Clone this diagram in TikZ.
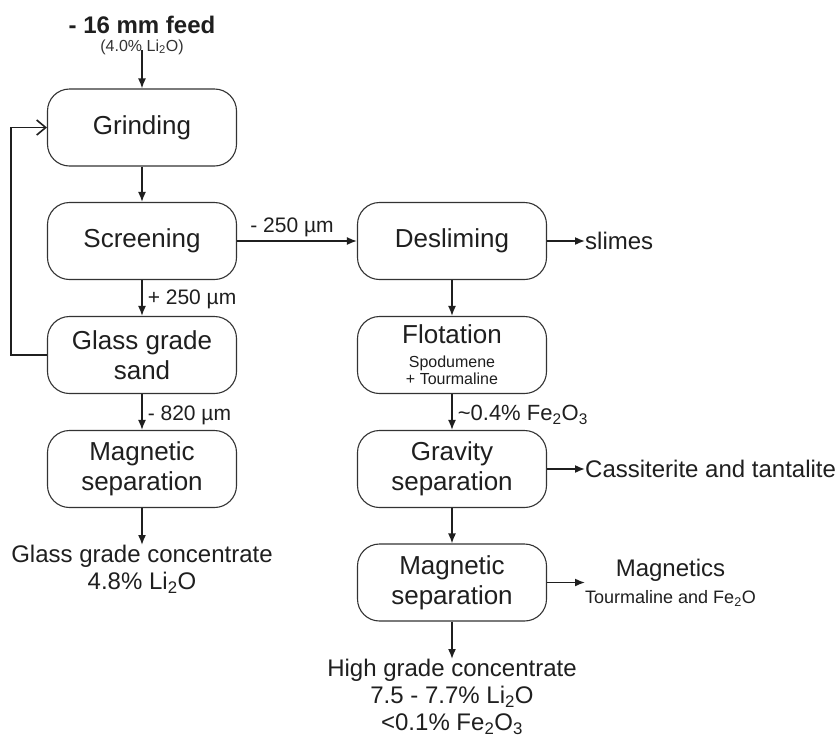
\documentclass[tikz,border=0pt]{standalone}
\usepackage{fontspec}
\setmainfont{Liberation Sans}
\usetikzlibrary{arrows.meta}
\begin{document}
\begin{tikzpicture}[x=1pt,y=-1pt,
  box/.style={draw=black!80, line width=1.1pt, rounded corners=22pt,
    minimum width=189pt, minimum height=77pt, inner sep=0pt,
    align=center, font=\fontsize{26}{30}\selectfont, text=black!88},
  flow/.style={line width=1.6pt, draw=black!88, -{Latex[length=10pt,width=8pt]}},
  lbl/.style={font=\fontsize{21}{24}\selectfont, text=black!88, inner sep=0pt},
  outtxt/.style={font=\fontsize{24}{27}\selectfont, text=black!88, inner sep=0pt, align=center}
]
\useasboundingbox (0,0) rectangle (837,737);
\fill[white] (0,0) rectangle (837,737);

% feed
\node[font=\bfseries\fontsize{24}{28}\selectfont, text=black!88, inner sep=0pt] (feed) at (142,25) {- 16 mm feed};
\node[font=\fontsize{16}{18}\selectfont, text=black!80, inner sep=0pt] (feedg) at (142,47) {(4.0\% Li\textsubscript{2}O)};
\coordinate (fs) at (142,50);

% left column
\node[box] (grind) at (142,127.5) {Grinding};
\node[box] (screen) at (142,241) {Screening};
\node[box] (glass) at (142,355) {Glass grade\\sand};
\node[box] (magL) at (142,469) {Magnetic\\separation};

% right column
\node[box] (desl) at (452,241) {Desliming};
\node[box] (flot) at (452,355) {Flotation\\[-6pt]\fontsize{16}{17}\selectfont Spodumene\\[-13pt]\fontsize{16}{17}\selectfont + Tourmaline};
\node[box] (grav) at (452,469) {Gravity\\separation};
\node[box] (magR) at (452,582.5) {Magnetic\\separation};

% outputs
\node[outtxt, anchor=north] (gc) at (142,545) {Glass grade concentrate\\4.8\% Li\textsubscript{2}O};
\node[outtxt, anchor=north] (hg) at (452,659) {High grade concentrate\\7.5 - 7.7\% Li\textsubscript{2}O\\\textless0.1\% Fe\textsubscript{2}O\textsubscript{3}};
\node[outtxt, anchor=west] (slimes) at (585,241) {slimes};
\node[outtxt, anchor=west] (cass) at (585,469) {Cassiterite and tantalite};
\node[outtxt, anchor=west] (mags) at (585,582.5) {Magnetics\\\fontsize{18}{20}\selectfont Tourmaline and Fe\textsubscript{2}O};

% connectors
\draw[flow] (fs) -- (grind.north);
\draw[flow] (grind) -- (screen);
\draw[flow] (screen) -- node[lbl, right, xshift=5pt, yshift=-1pt] {+ 250 µm} (glass);
\draw[flow] (glass) -- node[lbl, right, xshift=5pt, yshift=-3pt] {- 820 µm} (magL);
\draw[flow] (magL) -- (gc);
\draw[flow] (screen) -- node[lbl, above, yshift=3pt, xshift=-5pt] {- 250 µm} (desl);
\draw[flow] (desl) -- (flot);
\draw[flow] (flot) -- node[lbl, font=\fontsize{22}{24}\selectfont, right, xshift=5pt, yshift=-3pt] {\textasciitilde0.4\% Fe\textsubscript{2}O\textsubscript{3}} (grav);
\draw[flow] (grav) -- (magR);
\draw[flow] (magR) -- (hg);
\draw[flow] (desl.east) -- (slimes.west);
\draw[flow] (grav.east) -- (cass.west);
\draw[flow] (magR.east) -- (magR.east -| mags.west);
\draw[line width=1.6pt, draw=black!88, -{Straight Barb[length=9pt,width=15pt]}]
  (glass.west) -- ++(-36,0) |- (grind.west);
\end{tikzpicture}
\end{document}
